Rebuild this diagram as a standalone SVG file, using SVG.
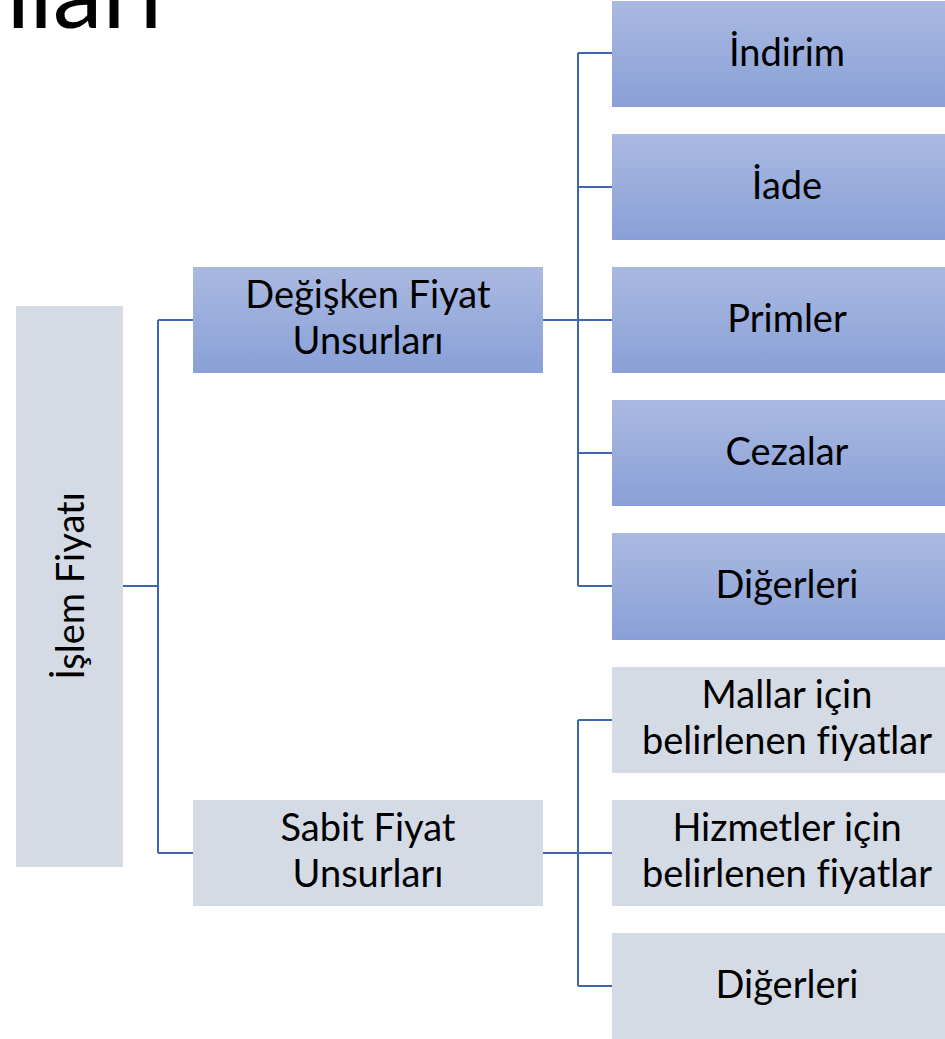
<svg xmlns="http://www.w3.org/2000/svg" width="945" height="1039" viewBox="0 0 945 1039">
<defs>
<linearGradient id="blueGrad" x1="0" y1="0" x2="0" y2="1">
<stop offset="0" stop-color="#aab9e1"/>
<stop offset="1" stop-color="#89a0d7"/>
</linearGradient>
</defs>
<style>
.blue{fill:url(#blueGrad);}
.grey{fill:#d5dbe5;}
.lbl{font-family:Lato,"Open Sans","Liberation Sans",sans-serif;font-size:38px;fill:#000;text-anchor:middle;font-variant-ligatures:none;font-feature-settings:"liga" 0;}
.conn{stroke:#3e66b3;stroke-width:2;fill:none;}
.title{font-family:Lato,"Open Sans","Liberation Sans",sans-serif;font-size:100px;fill:#000;}
</style>
<rect width="945" height="1039" fill="#ffffff"/>
<text class="title" x="163" y="28" text-anchor="end">nları</text>
<g id="connectors">
<path class="conn" d="M123,586 H158 M158,320 V853 M158,320 H193 M158,853 H193"/>
<path class="conn" d="M543,320 H578 M578,53 V586 M578,53 H612 M578,187 H612 M578,320 H612 M578,453 H612 M578,586 H612"/>
<path class="conn" d="M543,853 H578 M578,720 V986 M578,720 H612 M578,853 H612 M578,986 H612"/>
</g>
<g id="islem-fiyati">
<rect class="grey" x="16" y="306" width="107" height="561"/>
<text class="lbl" transform="translate(84,586) rotate(-90)" x="0" y="0">İşlem Fiyatı</text>
</g>
<g id="degisken">
<rect class="blue" x="193" y="267" width="350" height="106"/>
<text class="lbl" x="368" y="308">Değişken Fiyat<tspan x="368" dy="46">Unsurları</tspan></text>
</g>
<g id="sabit">
<rect class="grey" x="193" y="800" width="350" height="106"/>
<text class="lbl" x="368" y="841">Sabit Fiyat<tspan x="368" dy="46">Unsurları</tspan></text>
</g>
<g id="indirim">
<rect class="blue" x="612" y="1" width="333" height="106"/>
<text class="lbl" x="787" y="66">İndirim</text>
</g>
<g id="iade">
<rect class="blue" x="612" y="134" width="333" height="106"/>
<text class="lbl" x="787" y="199">İade</text>
</g>
<g id="primler">
<rect class="blue" x="612" y="267" width="333" height="106"/>
<text class="lbl" x="787" y="332">Primler</text>
</g>
<g id="cezalar">
<rect class="blue" x="612" y="400" width="333" height="106"/>
<text class="lbl" x="787" y="465">Cezalar</text>
</g>
<g id="digerleri1">
<rect class="blue" x="612" y="533" width="333" height="107"/>
<text class="lbl" x="787" y="598">Diğerleri</text>
</g>
<g id="mallar">
<rect class="grey" x="612" y="667" width="333" height="106"/>
<text class="lbl" x="787" y="708">Mallar için<tspan x="787" dy="46">belirlenen fiyatlar</tspan></text>
</g>
<g id="hizmetler">
<rect class="grey" x="612" y="800" width="333" height="106"/>
<text class="lbl" x="787" y="841">Hizmetler için<tspan x="787" dy="46">belirlenen fiyatlar</tspan></text>
</g>
<g id="digerleri2">
<rect class="grey" x="612" y="933" width="333" height="106"/>
<text class="lbl" x="787" y="998">Diğerleri</text>
</g>
</svg>
